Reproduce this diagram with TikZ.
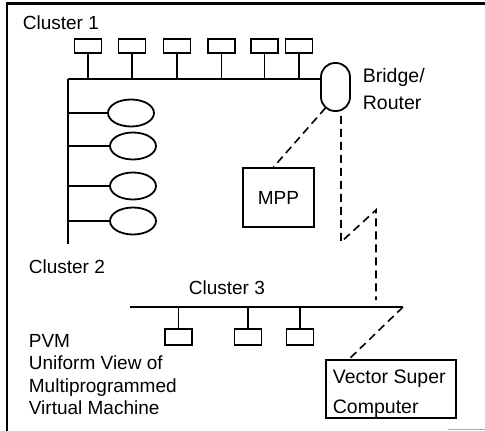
\documentclass[tikz,border=0pt]{standalone}
\usepackage{fontspec}
\setmainfont{Liberation Sans}
\usetikzlibrary{shapes.geometric,calc}
\begin{document}
\begin{tikzpicture}[x=1pt,y=-1pt,line width=1.8pt,
  txt/.style={inner sep=0pt,align=left,anchor=north west,font=\fontsize{19}{22.5}\selectfont},
  host/.style={draw,minimum width=27pt,minimum height=14pt,inner sep=0pt},
  ws/.style={draw,ellipse,minimum width=46pt,minimum height=27pt,inner sep=0pt},
  link/.style={line width=1.6pt,dash pattern=on 8pt off 5pt},
  frameline/.style={line width=2.2pt}]
\useasboundingbox (0,0) rectangle (485,431);

% page frame (top and left rules)
\coordinate (fTL) at (7,3.5);
\coordinate (fTR) at (485,3.5);
\coordinate (fBL) at (7,431);
\draw[frameline] (fTR) -- (fTL) -- (fBL);
\coordinate (gA) at (448,429);
\coordinate (gB) at (485,429);
\draw[gray!70,line width=1pt] (gA) -- (gB);

% labels
\node[txt] (c1lbl) at (22,14.5) {Cluster 1};
\node[txt] (c2lbl) at (28,258.5) {Cluster 2};
\node[txt] (c3lbl) at (188,279.5) {Cluster 3};
\node[txt,font=\fontsize{19.5}{27}\selectfont] (brlbl) at (362,67) {Bridge/\\Router};
\node[txt] (pvm) at (28,333.5) {PVM\\Uniform View of\\Multiprogrammed\\Virtual Machine};

% cluster 1: bus with six hosts and the bridge/router
\node[draw,rounded corners=14pt,minimum width=29pt,minimum height=48pt,inner sep=0pt] (bridge) at (335.5,87) {};
\coordinate (b1L) at (68,79);
\coordinate (b1R) at (321,79);
\draw (b1L) -- (b1R);
\foreach \i/\x in {1/88,2/132,3/177,4/221.5,5/264.5,6/299}{
  \node[host] (h\i) at (\x,46) {};
  \draw (h\i.south) -- (h\i.south |- b1L);
}

% cluster 2: workstations on a vertical segment
\coordinate (b2B) at (68,244);
\draw (b1L) -- (b2B);
\foreach \i/\x/\y in {1/131/113,2/133/146,3/133/186,4/133/221}{
  \node[ws] (w\i) at (\x,\y) {};
  \draw (w\i.west) -- (w\i.west -| b1L);
}

% massively parallel processor
\node[draw,minimum width=71pt,minimum height=59pt,inner sep=0pt,font=\fontsize{19}{22.5}\selectfont] (mpp) at (278.5,197.5) {MPP};
\draw[link] ($(bridge.south)+(-10,-4)$) -- ($(mpp.north)+(-5,0)$);

% cluster 3: bus with three hosts
\coordinate (b3L) at (130,307);
\coordinate (b3R) at (403,307);
\draw (b3L) -- (b3R);
\foreach \i/\x in {1/178.5,2/248,3/300}{
  \node[host,minimum height=16pt] (k\i) at (\x,337) {};
  \draw (k\i.north) -- (k\i.north |- b3L);
}

% wide-area link from the bridge down to cluster 3
\coordinate (zs) at ($(bridge.south)+(5.5,4)$);
\coordinate (zA) at (341,242);
\coordinate (zB) at (376,210);
\draw[link] (zs) -- (zA) -- (zB) -- ($(zB |- b3R)+(0,-7)$);

% vector supercomputer
\node[draw,minimum width=130pt,minimum height=58pt,inner sep=0pt] (vsc) at (391,389) {};
\node[txt,font=\fontsize{19.5}{30}\selectfont] (vsclbl) at (332,369) {Vector Super\\Computer};
\draw[link] (b3R) -- ($(vsc.north west)+(24,0)$);
\end{tikzpicture}
\end{document}
